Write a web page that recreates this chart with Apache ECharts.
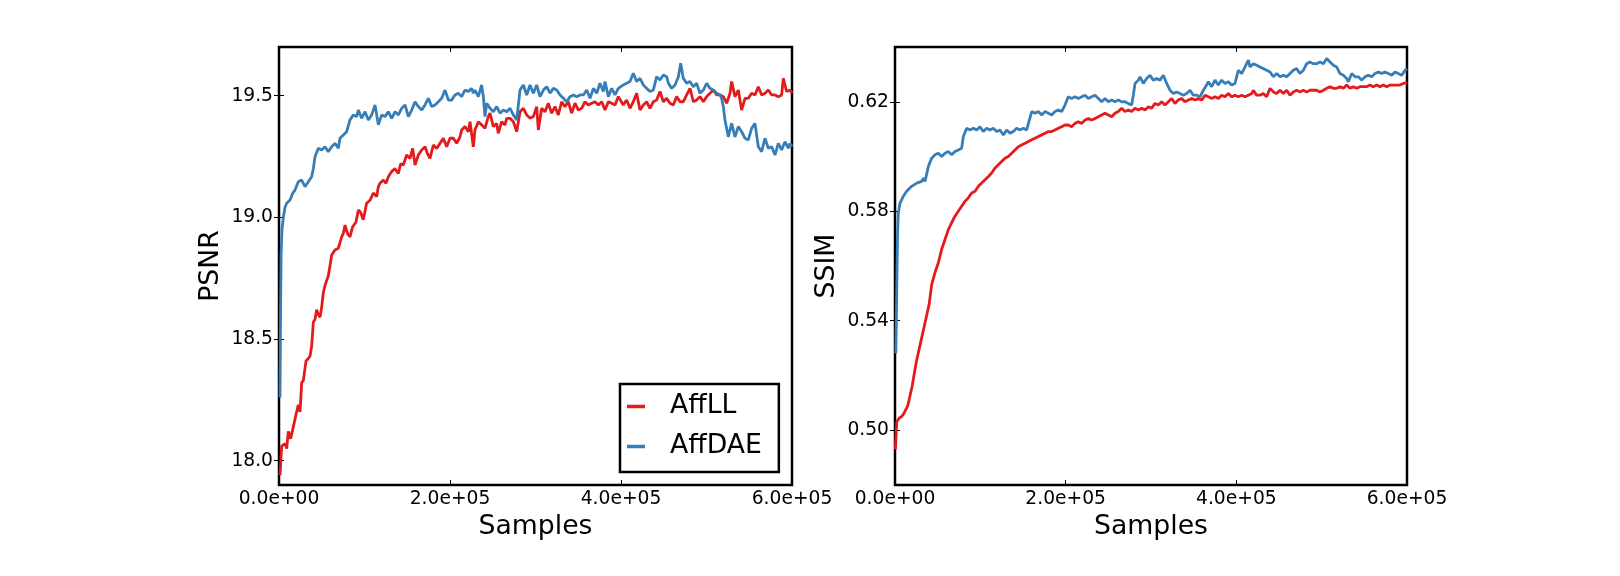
<!DOCTYPE html>
<html><head><meta charset="utf-8">
<script src="https://cdn.jsdelivr.net/npm/echarts@6/dist/echarts.min.js"></script>
<style>html,body{margin:0;padding:0;background:#fff}#c{width:1620px;height:576px}</style>
</head><body><div id="c"></div>
<script>
// ---- data (x in thousands of samples) ----
const seriesNames = ['AffLL', 'AffDAE'];
const xTicks = [0, 200000, 400000, 600000];
const psnrTicks = [18.0, 18.5, 19.0, 19.5];
const ssimTicks = [0.50, 0.54, 0.58, 0.62];

const psnrLLk = [1.2,3.1,7,9,10.9,13.6,16.8,19.9,22.6,24.6,26.5,28.5,31.6,34.3,36.3,38.2,40.2,42.1,44,46,48,49.9,51.8,53.8,55.7,57.7,59.6,61.6,65.5,69.4,73.3,75.2,77.2,80,83,86,90,92.8,95.5,98.6,102.5,106.4,110.3,114.2,116.2,118.1,122,125.1,127.9,131.8,135.7,139.6,142.3,145.4,149.3,153.2,156.3,159.1,163,166.9,170.8,173.5,176.6,180.5,184.4,188.3,192.2,196.1,200,204,207.8,211.7,213.6,217.5,221.4,223.4,227.3,229.2,233.1,237,240.9,244.8,246.8,250.7,254.6,256.5,260.4,264.3,266.3,270.2,274.1,276,278,281.9,285.8,289.7,293.6,297.5,301.4,303.3,307.2,311.1,315,318.9,322.8,326.7,330.6,334.5,338.4,342.3,346.2,350.1,354,357.9,361.8,365.7,369.6,373.5,377.4,381.3,385.2,389.1,393,396.9,402.7,406.6,410.5,414.4,418.3,422.2,426.1,430,433.9,437.8,441.7,445.6,449.5,453.4,457.3,461.2,465.1,469,472.9,476.8,480.7,484.6,488.5,492.4,496.3,500.2,504.1,508,511.9,515.8,519.7,523.6,527.5,529.4,533.3,537.2,541.1,545,548.9,552.8,556.7,560.6,564.5,568.4,572.3,576.2,580.1,584,587.9,589.8,593.7,597.7,600];
const psnrLL = [17.94,18.06,18.07,18.05,18.12,18.09,18.14,18.19,18.23,18.2,18.32,18.33,18.41,18.42,18.43,18.47,18.57,18.58,18.62,18.6,18.59,18.63,18.69,18.72,18.74,18.76,18.8,18.845,18.866,18.873,18.92,18.934,18.968,18.934,18.92,18.96,18.98,19.03,19.02,18.99,19.058,19.07,19.1,19.085,19.126,19.14,19.153,19.14,19.167,19.188,19.2,19.18,19.22,19.215,19.256,19.242,19.283,19.215,19.256,19.277,19.29,19.263,19.242,19.297,19.283,19.304,19.325,19.29,19.325,19.325,19.304,19.331,19.359,19.373,19.352,19.393,19.29,19.359,19.393,19.38,19.366,19.414,19.428,19.373,19.386,19.345,19.393,19.38,19.407,19.407,19.393,19.4,19.352,19.434,19.448,19.421,19.407,19.414,19.455,19.359,19.448,19.434,19.469,19.428,19.455,19.421,19.475,19.455,19.475,19.428,19.469,19.441,19.448,19.475,19.462,19.469,19.475,19.462,19.475,19.441,19.475,19.469,19.462,19.496,19.462,19.482,19.448,19.475,19.51,19.441,19.462,19.475,19.448,19.475,19.482,19.517,19.475,19.489,19.469,19.462,19.496,19.475,19.475,19.503,19.53,19.475,19.482,19.496,19.475,19.496,19.51,19.523,19.503,19.503,19.496,19.469,19.51,19.558,19.496,19.523,19.441,19.489,19.489,19.51,19.503,19.537,19.503,19.51,19.523,19.503,19.503,19.496,19.503,19.571,19.517,19.523,19.51];

const psnrDAEk = [1.2,1.8,2.5,3.5,5.1,7,9,12.9,16,18.7,22.6,26.5,30.4,34.3,38.2,40.2,42.1,46,49.9,53.8,57.7,61.6,65.5,69.4,71.3,75.2,79.1,83,86.9,90.8,92.8,96.7,100.6,104.5,108.4,112.3,116.2,120.1,124,127.9,131.8,135.7,139.6,143.5,147.4,151.3,155.2,159.1,163,166.9,170.8,174.7,178.6,182.5,186.4,190.3,194.2,198.1,202,205.8,209.7,213.6,217.5,221.4,225.3,227.3,229.2,233.1,237,239,240.9,242.9,246.8,250.7,254.6,258.5,262.4,266.3,270.2,274.1,278,281.9,285.8,289.7,293.6,297.5,301.4,305.3,309.2,313.1,317,320.9,324.8,328.7,332.6,336.5,340.4,344.3,348.2,352.1,356,359.9,363.8,367.7,371.6,375.4,379.3,381.3,385.2,389.1,393,396.9,402.7,406.6,410.5,414.4,418.3,422.2,426.1,430,433.9,437.8,441.7,445.6,449.5,453.4,455.4,459.3,463.2,467.1,469.8,472.9,476.8,480.7,484.6,488.5,492.4,496.3,500.2,504.1,508,511.9,515.8,517.7,519.7,521.6,525.5,529.4,533.3,537.2,541.1,545,548.9,552.8,556.7,560.6,564.5,568.4,572.3,576.2,580.1,584,587.9,591.8,595.7,597.7,600];
const psnrDAE = [18.26,18.6,18.85,18.95,19.0,19.04,19.058,19.071,19.099,19.112,19.146,19.153,19.126,19.146,19.167,19.201,19.249,19.284,19.277,19.29,19.27,19.29,19.304,19.284,19.325,19.338,19.352,19.4,19.421,19.414,19.441,19.407,19.434,19.4,19.421,19.462,19.38,19.421,19.414,19.434,19.407,19.434,19.421,19.448,19.462,19.414,19.441,19.475,19.455,19.441,19.462,19.489,19.455,19.462,19.475,19.489,19.523,19.482,19.482,19.503,19.51,19.496,19.523,19.517,19.53,19.51,19.523,19.496,19.544,19.496,19.414,19.469,19.448,19.434,19.455,19.428,19.441,19.434,19.448,19.421,19.4,19.523,19.544,19.503,19.544,19.51,19.544,19.496,19.523,19.537,19.51,19.53,19.523,19.503,19.489,19.475,19.496,19.503,19.496,19.503,19.503,19.523,19.489,19.53,19.51,19.551,19.517,19.558,19.496,19.53,19.503,19.53,19.544,19.551,19.558,19.592,19.558,19.571,19.544,19.53,19.517,19.523,19.578,19.564,19.585,19.578,19.551,19.53,19.544,19.578,19.633,19.571,19.551,19.558,19.537,19.551,19.51,19.523,19.551,19.53,19.523,19.51,19.503,19.489,19.455,19.4,19.331,19.386,19.331,19.373,19.352,19.325,19.318,19.366,19.386,19.29,19.27,19.325,19.284,19.29,19.256,19.304,19.277,19.311,19.284,19.304,19.29];

const ssimLLk = [0.5,2,5,8,11,15,20,25,30,35,40,43,46.9,50.8,54.7,58.6,62.5,66.4,70.3,74.2,78.1,82,85.9,89.8,93.8,97.7,101.6,105.5,109.4,113.3,117.2,121.1,125,128.9,132.8,136.7,140.6,144.5,148.4,152.3,156.3,160.2,164.1,168,171.9,175.8,179.7,183.6,187.5,191.4,195.3,199.2,203.1,207,210.9,214.8,218.8,222.7,226.6,230.5,234.4,238.3,242.2,246.1,250,253.9,257.8,261.7,265.6,269.5,273.4,277.3,281.3,285.2,289.1,293,296.9,300.8,304.7,308.6,312.5,316.4,320.3,324.2,328.1,332,335.9,339.8,343.8,347.7,351.6,355.5,359.4,363.3,367.2,371.1,375,378.9,382.8,386.7,390.6,394.5,398.4,402.3,406.3,410.2,414.1,418,419.9,423.8,427.7,431.6,435.5,439.5,443.4,447.3,451.2,455.1,459,462.9,466.8,470.7,474.6,478.5,482.4,486.3,490.2,494.1,498,502,505.9,509.8,513.7,517.6,521.5,525.4,529.3,533.2,537.1,541,544.9,548.8,552.7,556.6,560.5,564.5,568.4,572.3,576.2,580.1,584,587.9,591.8,595.7,597.7,600];
const ssimLL = [0.493,0.503,0.5045,0.505,0.5065,0.509,0.516,0.525,0.532,0.539,0.546,0.5533,0.5576,0.5612,0.5661,0.5697,0.5733,0.5758,0.5782,0.58,0.5818,0.5836,0.5849,0.5867,0.5873,0.5891,0.5903,0.5915,0.5927,0.594,0.5958,0.597,0.5982,0.5994,0.6,0.6012,0.6024,0.6036,0.6042,0.6048,0.6055,0.6061,0.6067,0.6073,0.6079,0.6085,0.6091,0.6091,0.6097,0.6103,0.6109,0.6115,0.6115,0.6109,0.6121,0.6127,0.6121,0.6133,0.6139,0.6133,0.6139,0.6145,0.6152,0.6158,0.6152,0.6145,0.6158,0.6164,0.6176,0.6164,0.617,0.6164,0.6176,0.617,0.6176,0.617,0.6182,0.6176,0.6194,0.6188,0.62,0.6188,0.62,0.6212,0.6194,0.6206,0.6212,0.62,0.6206,0.6212,0.6206,0.6212,0.6206,0.6224,0.6218,0.6212,0.6218,0.6212,0.6224,0.6218,0.623,0.6218,0.6224,0.6218,0.6224,0.6218,0.6224,0.623,0.6242,0.6224,0.6224,0.623,0.6218,0.6249,0.6236,0.623,0.6242,0.623,0.6242,0.6224,0.6236,0.6242,0.6236,0.6242,0.6236,0.6242,0.6242,0.6242,0.6236,0.6242,0.6249,0.6255,0.6249,0.6249,0.6255,0.6249,0.6261,0.6249,0.6255,0.6249,0.6255,0.6255,0.6255,0.6261,0.6255,0.6261,0.6255,0.6261,0.6255,0.6261,0.6261,0.6261,0.6261,0.6267,0.6273,0.627];

const ssimDAEk = [1,2,3,3.9,5.9,9.8,13.7,19.5,25.4,31.3,33.2,35.2,39.1,43,46.9,50.8,54.7,58.6,62.5,66.4,70.3,74.2,78.1,80.1,84,87.9,91.8,95.7,99.6,103.5,107.4,111.3,115.2,119.1,123,127,130.9,134.8,138.7,142.6,146.5,150.4,154.3,156.3,160.2,164.1,168,171.9,175.8,179.7,183.6,187.5,191.4,195.3,199.2,203.1,207,210.9,214.8,218.8,222.7,226.6,230.5,234.4,238.3,242.2,246.1,250,253.9,257.8,261.7,265.6,269.5,273.4,277.3,279.3,281.3,285.2,287.1,291,294.9,298.8,302.7,306.6,310.5,314.5,318.4,322.3,326.2,330.1,334,337.9,341.8,345.7,349.6,353.5,357.4,361.3,365.2,367.2,371.1,375,378.9,382.8,386.7,390.6,394.5,398.4,402.3,406.3,410.2,414.1,416,419.9,423.8,427.7,431.6,435.5,439.5,443.4,447.3,451.2,455.1,459,462.9,466.8,470.7,474.6,478.5,482.4,486.3,490.2,494.1,498,502,505.9,509.8,513.7,517.6,521.5,525.4,529.3,531.3,535.2,539.1,543,546.9,550.8,554.7,558.6,562.5,566.4,570.3,574.2,578.1,582,585.9,589.8,593.8,597.7,600];
const ssimDAE = [0.528,0.55,0.572,0.5794,0.583,0.5855,0.5873,0.5891,0.5903,0.5909,0.5921,0.5909,0.5964,0.5994,0.6006,0.6012,0.6,0.6012,0.6018,0.6006,0.6018,0.6024,0.603,0.6073,0.6103,0.6097,0.6103,0.6097,0.6109,0.6091,0.6103,0.6097,0.6103,0.6091,0.6097,0.6079,0.6097,0.6085,0.6091,0.6103,0.6097,0.6103,0.6097,0.6103,0.6164,0.6158,0.6164,0.6152,0.6164,0.6158,0.6152,0.6164,0.617,0.6164,0.6188,0.6218,0.6212,0.6218,0.6212,0.6218,0.6224,0.6212,0.6218,0.6224,0.6212,0.62,0.6212,0.62,0.6206,0.62,0.6206,0.62,0.62,0.6194,0.6188,0.6224,0.6267,0.6279,0.6291,0.6267,0.6285,0.6297,0.6279,0.6285,0.6279,0.6297,0.6267,0.6242,0.623,0.6236,0.623,0.6224,0.623,0.6242,0.6224,0.6224,0.6218,0.6242,0.6261,0.6273,0.6255,0.6279,0.6261,0.6279,0.6267,0.6273,0.6261,0.6267,0.6315,0.6303,0.6327,0.6352,0.6327,0.6339,0.6333,0.6327,0.6321,0.6315,0.6309,0.6291,0.6303,0.6291,0.6297,0.6291,0.6303,0.6315,0.6321,0.6303,0.6315,0.6339,0.6345,0.6339,0.6339,0.6345,0.6339,0.6358,0.6345,0.6333,0.6327,0.6303,0.6297,0.6285,0.6273,0.6303,0.6291,0.6291,0.6279,0.6291,0.6297,0.6291,0.6303,0.6309,0.6303,0.6309,0.6303,0.6297,0.6309,0.6303,0.6297,0.6315,0.632];

// ---- build ----
const FONT = 'DejaVu Sans';
const RED = '#e41a1c', BLUE = '#377eb8';
const pairs = (ks, vs) => ks.map((k, i) => [k * 1000, vs[i]]);
function sci(v) {
  if (v === 0) return '0.0e+00';
  const e = Math.floor(Math.log10(Math.abs(v)) + 1e-9);
  const m = v / Math.pow(10, e);
  return m.toFixed(1) + 'e' + (e < 0 ? '-' : '+') + String(Math.abs(e)).padStart(2, '0');
}
const tick = { show: true, inside: true, length: 5, lineStyle: { color: '#000', width: 1 } };
function xAx(g, pos, main) {
  return {
    type: 'value', gridIndex: g, position: pos, min: 0, max: 600000,
    axisLine: { show: false }, splitLine: { show: false },
    axisTick: Object.assign({ customValues: xTicks }, tick),
    axisLabel: { show: main, customValues: xTicks, formatter: sci, color: '#000', fontSize: 18.7, fontFamily: FONT, margin: 5 },
    name: main ? 'Samples' : '', nameLocation: 'middle', nameGap: 29,
    nameTextStyle: { color: '#000', fontSize: 26.7, fontFamily: FONT }
  };
}
function yAx(g, pos, main, mn, mx, ticks, dec, name) {
  return {
    type: 'value', gridIndex: g, position: pos, min: mn, max: mx,
    axisLine: { show: false }, splitLine: { show: false },
    axisTick: Object.assign({ customValues: ticks }, tick),
    axisLabel: { show: main, customValues: ticks, formatter: v => v.toFixed(dec), color: '#000', fontSize: 18.7, fontFamily: FONT, margin: 6 },
    name: main ? name : '', nameLocation: 'middle', nameGap: 54,
    nameTextStyle: { color: '#000', fontSize: 26.7, fontFamily: FONT }
  };
}
const gridStyle = { show: true, borderColor: '#000', borderWidth: 2.5, backgroundColor: 'transparent', containLabel: false };
function line(name, xi, yi, data, color) {
  return { type: 'line', name, xAxisIndex: xi, yAxisIndex: yi, data, showSymbol: false, symbol: 'none',
    lineStyle: { color, width: 2.8 }, itemStyle: { color }, silent: true };
}
const chart = echarts.init(document.getElementById('c'), null, { renderer: 'canvas' });
chart.setOption({
  animation: false,
  backgroundColor: '#fff',
  textStyle: { fontFamily: FONT },
  grid: [
    Object.assign({ left: 279, top: 47, width: 513, height: 438 }, gridStyle),
    Object.assign({ left: 895, top: 47, width: 512, height: 438 }, gridStyle)
  ],
  xAxis: [xAx(0, 'bottom', true), xAx(0, 'top', false), xAx(1, 'bottom', true), xAx(1, 'top', false)],
  yAxis: [
    yAx(0, 'left', true, 17.9, 19.7, psnrTicks, 1, 'PSNR'),
    yAx(0, 'right', false, 17.9, 19.7, psnrTicks, 1, ''),
    yAx(1, 'left', true, 0.48, 0.64, ssimTicks, 2, 'SSIM'),
    yAx(1, 'right', false, 0.48, 0.64, ssimTicks, 2, '')
  ],
  legend: {
    data: seriesNames, orient: 'vertical', left: 620, top: 384,
    padding: [9, 17, 12, 7], itemGap: 13, itemWidth: 18, itemHeight: 3.5, icon: 'rect',
    borderColor: '#000', borderWidth: 2.5, backgroundColor: '#fff', borderRadius: 0,
    textStyle: { color: '#000', fontSize: 26.7, fontFamily: FONT, padding: [0, 0, 0, 20] }
  },
  series: [
    line(seriesNames[0], 0, 0, pairs(psnrLLk, psnrLL), RED),
    line(seriesNames[1], 0, 0, pairs(psnrDAEk, psnrDAE), BLUE),
    line(seriesNames[0], 2, 2, pairs(ssimLLk, ssimLL), RED),
    line(seriesNames[1], 2, 2, pairs(ssimDAEk, ssimDAE), BLUE)
  ]
});
</script>
</body></html>
